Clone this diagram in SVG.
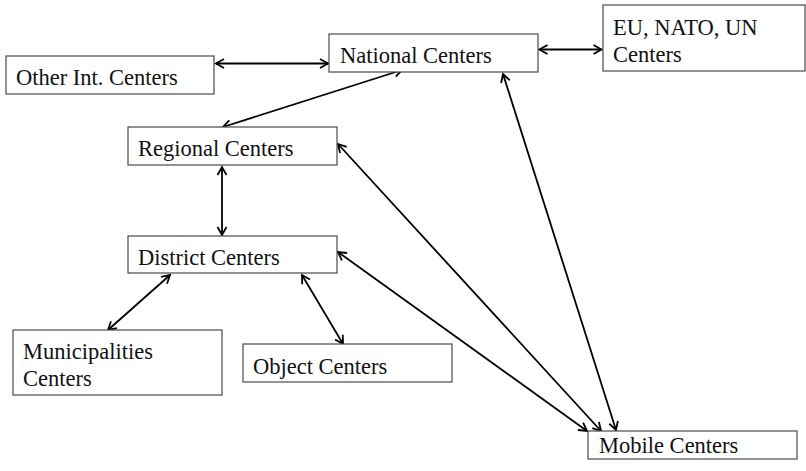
<svg xmlns="http://www.w3.org/2000/svg" width="806" height="471" viewBox="0 0 806 471">
  <style>
    .box { fill: #ffffff; stroke: #4a4a4a; stroke-width: 1.2; }
    .lbl { font-family: "Liberation Serif", "Times New Roman", serif; font-size: 22.5px; fill: #111111; }
    .link { fill: none; stroke: #000000; stroke-width: 1.8; marker-start: url(#head); marker-end: url(#head); }
  </style>
  <defs>
    <marker id="head" viewBox="-10 -6 12 12" refX="0" refY="0" markerWidth="12" markerHeight="12" markerUnits="userSpaceOnUse" orient="auto-start-reverse">
      <path d="M -8 -4.5 L 0 0 L -8 4.5" fill="none" stroke="#000000" stroke-width="1.8" stroke-linejoin="miter"/>
    </marker>
  </defs>
  <rect width="806" height="471" fill="#ffffff"/>

  <g id="connectors">
    <line class="link" x1="216" y1="63.5" x2="328" y2="63.5"/>
    <line class="link" x1="539.5" y1="49.5" x2="601.5" y2="49.5"/>
    <line class="link" x1="402" y1="70" x2="223" y2="127"/>
    <line class="link" x1="222" y1="167" x2="222" y2="235"/>
    <line class="link" x1="170" y1="275" x2="108" y2="330"/>
    <line class="link" x1="302" y1="275" x2="343" y2="344"/>
    <line class="link" x1="503" y1="74" x2="616" y2="430"/>
    <line class="link" x1="338" y1="144" x2="601" y2="431"/>
    <line class="link" x1="338" y1="252" x2="587" y2="431"/>
  </g>

  <g id="other-int">
    <rect class="box" x="6" y="56" width="208" height="38"/>
    <text class="lbl" x="16" y="85">Other Int. Centers</text>
  </g>
  <g id="national">
    <rect class="box" x="329" y="34" width="209" height="38"/>
    <text class="lbl" x="340" y="63">National Centers</text>
  </g>
  <g id="eu-nato-un">
    <rect class="box" x="603" y="5" width="202" height="66"/>
    <text class="lbl" x="613" y="35">EU, NATO, UN</text>
    <text class="lbl" x="613" y="62">Centers</text>
  </g>
  <g id="regional">
    <rect class="box" x="128" y="127" width="209" height="38"/>
    <text class="lbl" x="138" y="156">Regional Centers</text>
  </g>
  <g id="district">
    <rect class="box" x="128" y="236" width="209" height="37"/>
    <text class="lbl" x="138" y="265">District Centers</text>
  </g>
  <g id="municipalities">
    <rect class="box" x="13" y="330" width="209" height="65"/>
    <text class="lbl" x="23" y="359">Municipalities</text>
    <text class="lbl" x="23" y="386">Centers</text>
  </g>
  <g id="object">
    <rect class="box" x="243" y="344" width="209" height="38"/>
    <text class="lbl" x="253" y="374">Object Centers</text>
  </g>
  <g id="mobile">
    <rect class="box" x="588" y="431" width="209" height="28"/>
    <text class="lbl" x="599" y="453">Mobile Centers</text>
  </g>
</svg>
